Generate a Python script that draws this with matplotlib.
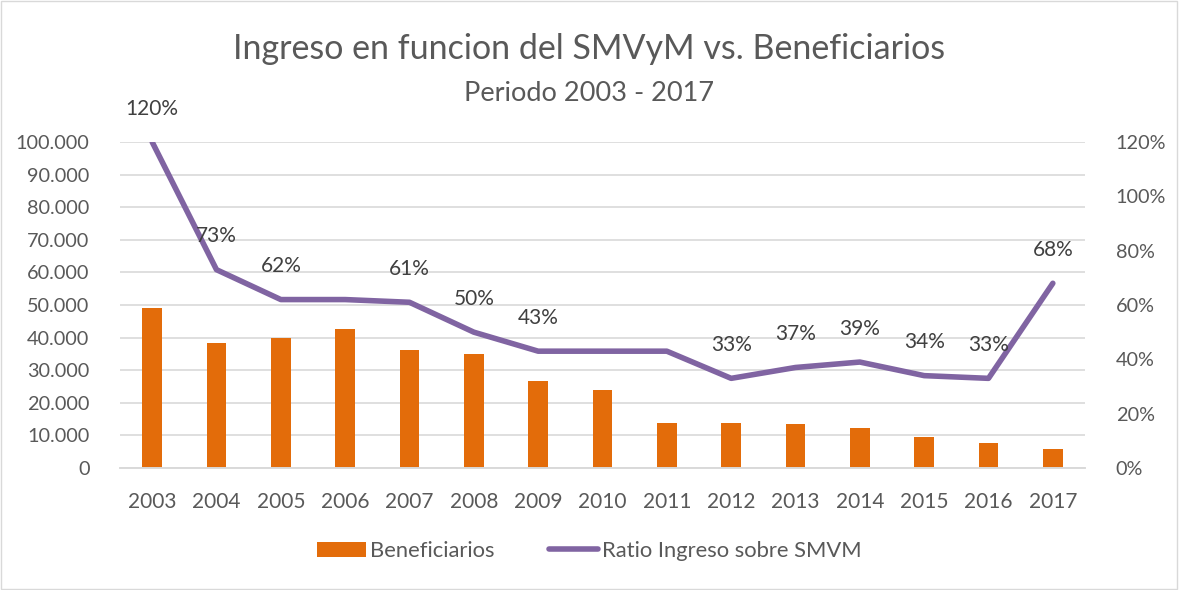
import numpy as np
import matplotlib.pyplot as plt

plt.rcParams['font.family'] = ['Lato', 'DejaVu Sans']

years = ['2003', '2004', '2005', '2006', '2007', '2008', '2009', '2010',
         '2011', '2012', '2013', '2014', '2015', '2016', '2017']
beneficiarios = [49000, 38200, 39800, 42500, 36200, 34900, 26700, 23900,
                 13700, 13700, 13600, 12200, 9500, 7600, 5700]
ratio = [1.20, 0.73, 0.62, 0.62, 0.61, 0.50, 0.43, 0.43,
         0.43, 0.33, 0.37, 0.39, 0.34, 0.33, 0.68]
# which points carry a data label
show_label = [True, True, True, False, True, True, True, False,
              False, True, True, True, True, True, True]

orange = '#E36C0A'
purple = '#8064A2'
text_c = '#595959'

fig = plt.figure(figsize=(11.79, 5.90), dpi=100)
ax = fig.add_axes([120 / 1179, 1 - 468 / 590, 965 / 1179, 326 / 590])
ax2 = ax.twinx()

x = np.arange(len(years))
ax.bar(x, beneficiarios, width=0.31, color=orange, zorder=2, label='Beneficiarios')
ax.set_ylim(0, 100000)
ax.set_yticks(np.arange(0, 100001, 10000))
ax.set_yticklabels([f'{v:,}'.replace(',', '.') for v in range(0, 100001, 10000)])
ax.set_xlim(-0.5, len(years) - 0.5)
ax.set_xticks(x)
ax.set_xticklabels(years)
ax.grid(axis='y', color='#D9D9D9', linewidth=1.2, zorder=0)
ax.set_axisbelow(True)

ax2.plot(x, ratio, color=purple, linewidth=4, solid_capstyle='round', label='Ratio Ingreso sobre SMVM')
ax2.set_ylim(0, 1.2)
ax2.set_yticks(np.arange(0, 1.21, 0.2))
ax2.set_yticklabels([f'{int(round(v * 100))}%' for v in np.arange(0, 1.21, 0.2)])
for xi, r, s in zip(x, ratio, show_label):
    if s:
        ax2.annotate(f'{int(round(r * 100))}%', (xi, r), xytext=(0, 24), textcoords='offset points',
                     ha='center', va='center', fontsize=15, color='#404040', annotation_clip=False)

for a in (ax, ax2):
    for side in ('top', 'left', 'right'):
        a.spines[side].set_visible(False)
    a.spines['bottom'].set_color('#D9D9D9')
    a.spines['bottom'].set_linewidth(1.2)
    a.tick_params(length=0, labelsize=14.3, colors=text_c)
ax.tick_params(axis='y', pad=22)
ax.tick_params(axis='x', pad=17, labelsize=15)
ax2.tick_params(axis='y', pad=22)

fig.text(0.5, 1 - 49 / 590, 'Ingreso en funcion del SMVyM vs. Beneficiarios',
         ha='center', va='center', fontsize=24.5, color=text_c)
fig.text(0.5, 1 - 93 / 590, 'Periodo 2003 - 2017',
         ha='center', va='center', fontsize=19.5, color=text_c)

h1, l1 = ax.get_legend_handles_labels()
h2, l2 = ax2.get_legend_handles_labels()
fig.legend(h1 + h2, l1 + l2, loc='center', bbox_to_anchor=(0.5, 1 - 551 / 590), ncol=2,
           frameon=False, fontsize=15.8, labelcolor=text_c, handlelength=2.2,
           handletextpad=0.2, columnspacing=2.5)

fig.patches.append(plt.Rectangle((0.001, 0.002), 0.997, 0.996, transform=fig.transFigure,
                                 fill=False, edgecolor='#D9D9D9', linewidth=1))

fig.savefig('out.png', dpi=100)
